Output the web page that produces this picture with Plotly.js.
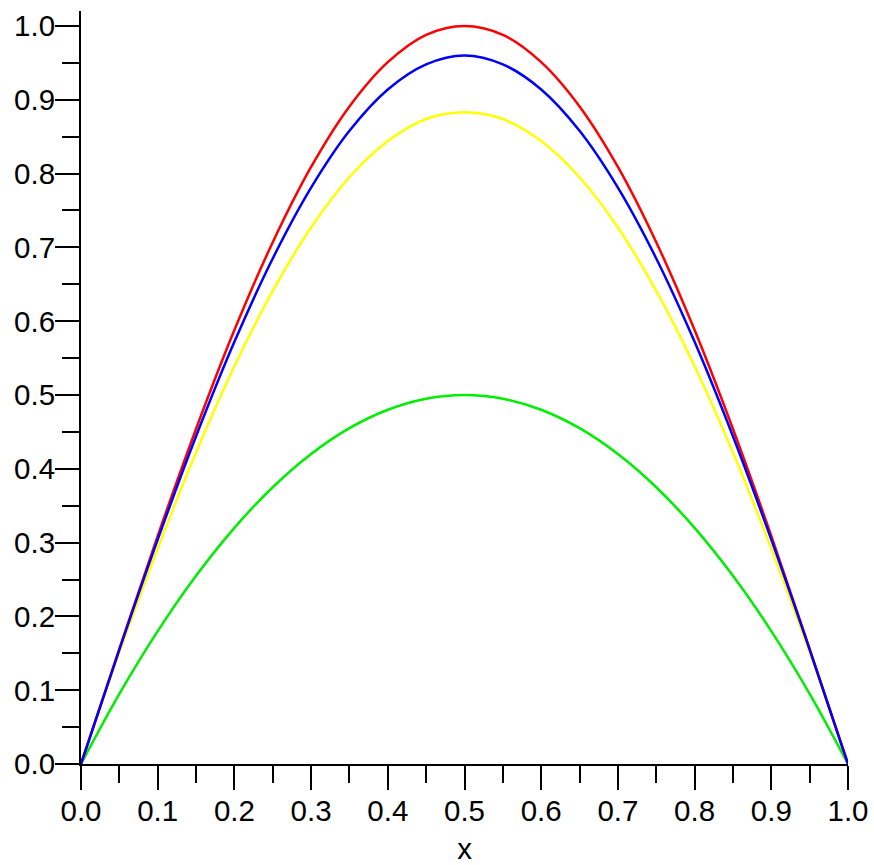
<!DOCTYPE html>
<html>
<head>
<meta charset="utf-8">
<script src="https://cdn.plot.ly/plotly-3.0.1.min.js"></script>
<style>html,body{margin:0;padding:0;background:#fff;}#chart{width:874px;height:865px;}</style>
</head>
<body>
<div id="chart"></div>
<script>
const xValues = [0, 0.05, 0.1, 0.15, 0.2, 0.25, 0.3, 0.35, 0.4, 0.45, 0.5, 0.55, 0.6, 0.65, 0.7, 0.75, 0.8, 0.85, 0.9, 0.95, 1.0];
const redValues = [0, 0.156, 0.309, 0.454, 0.588, 0.707, 0.809, 0.891, 0.951, 0.988, 1.000, 0.988, 0.951, 0.891, 0.809, 0.707, 0.588, 0.454, 0.309, 0.156, 0];
const blueValues = [0, 0.155, 0.304, 0.444, 0.572, 0.685, 0.781, 0.858, 0.914, 0.948, 0.960, 0.948, 0.914, 0.858, 0.781, 0.685, 0.572, 0.444, 0.304, 0.155, 0];
const yellowValues = [0, 0.151, 0.292, 0.422, 0.539, 0.641, 0.727, 0.795, 0.844, 0.874, 0.883, 0.874, 0.844, 0.795, 0.727, 0.641, 0.539, 0.422, 0.292, 0.151, 0];
const greenValues = [0, 0.095, 0.180, 0.255, 0.320, 0.375, 0.420, 0.455, 0.480, 0.495, 0.500, 0.495, 0.480, 0.455, 0.420, 0.375, 0.320, 0.255, 0.180, 0.095, 0];
const xTitle = 'x';

function trace(y, color) {
  return {x: xValues, y: y, type: 'scatter', mode: 'lines',
    line: {color: color, width: 2.5, shape: 'spline', smoothing: 1}, hoverinfo: 'skip'};
}
const data = [
  trace(greenValues, '#00ee00'),
  trace(yellowValues, '#ffff00'),
  trace(redValues, '#ff0000'),
  trace(blueValues, '#0000ff')
];
const font = {family: 'Liberation Sans, Arial, sans-serif', size: 29.5, color: '#000'};
const axisCommon = {
  showline: true, linecolor: '#000', linewidth: 2, mirror: false,
  showgrid: false, zeroline: false,
  ticks: 'outside', ticklen: 24, tickwidth: 2, tickcolor: '#000',
  dtick: 0.1, tick0: 0, tickformat: '.1f', tickfont: font,
  minor: {dtick: 0.05, tick0: 0, ticks: 'outside', ticklen: 17, tickwidth: 2, tickcolor: '#000', showgrid: false}
};
const layout = {
  width: 874, height: 865,
  margin: {l: 81, r: 26, t: 11, b: 101},
  paper_bgcolor: '#fff', plot_bgcolor: '#fff',
  showlegend: false,
  xaxis: Object.assign({}, axisCommon, {range: [0, 1], ticklabelstandoff: -4, title: {text: xTitle, font: font, standoff: 13}}),
  yaxis: Object.assign({}, axisCommon, {range: [0, 1.0203], ticklabelstandoff: -6})
};
Plotly.newPlot('chart', data, layout, {staticPlot: true, displayModeBar: false});
</script>
</body>
</html>
